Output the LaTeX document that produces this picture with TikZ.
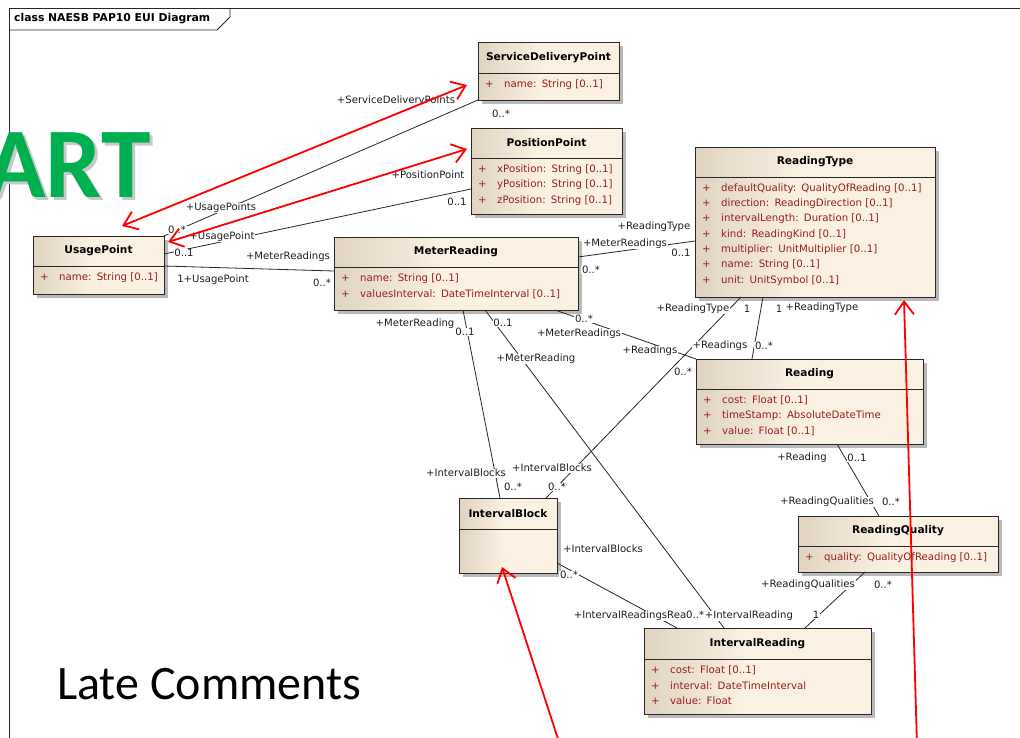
\documentclass[tikz,border=0pt]{standalone}
\usepackage{fontspec}
\newfontfamily\umlfont{DejaVu Sans}
\newfontfamily\officefont{Carlito}
\usetikzlibrary{calc,arrows.meta}

\definecolor{umldark}{RGB}{224,211,192}
\definecolor{umllight}{RGB}{251,241,226}
\definecolor{umlborder}{RGB}{40,40,40}
\definecolor{umlshadow}{RGB}{185,185,185}
\definecolor{attrred}{RGB}{150,30,30}
\definecolor{labelgray}{RGB}{30,30,30}
\definecolor{artgreen}{RGB}{0,176,80}
\definecolor{artshadow}{RGB}{200,200,200}
\definecolor{noteRed}{RGB}{255,0,0}

% gap after the colon of an attribute
\newcommand\colgap{\hspace{5.2pt}}

\tikzset{
  classbox/.style={draw=umlborder, line width=0.9pt, anchor=north west, inner sep=0pt, outer sep=0pt},
  classtitle/.style={font=\umlfont\bfseries\fontsize{10.6}{12}\selectfont, text=black, inner sep=0pt},
  classattr/.style={anchor=west, inner sep=0pt, font=\umlfont\fontsize{10.2}{12}\selectfont, text=attrred},
  assoc/.style={draw=black!85, line width=0.8pt},
  lbl/.style={font=\umlfont\fontsize{10.1}{11}\selectfont, text=labelgray, fill=white, inner sep=0.6pt},
  redlink/.style={draw=noteRed, line width=1.8pt},
  barb/.tip={Straight Barb[length=13pt,width=19pt]}
}

% class box: name, x, y, width, height, header height, title
\newcommand\umlclass[7]{%
  \fill[umlshadow] (#2+4,#3+4) rectangle ++(#4,#5);
  \fill[umllight] (#2,#3) rectangle ++(#4,#5);
  \shade[left color=umldark,right color=umllight] (#2,#3) rectangle ++(0.45*#4,#5);
  \node[classbox, minimum width=#4pt, minimum height=#5pt] (#1) at (#2,#3) {};
  \draw[umlborder, line width=0.9pt] ($(#1.north west)+(0,#6)$) -- ($(#1.north east)+(0,#6)$);
  \node[classtitle] (#1-title) at ($(#1.north)+(0,#6/2)$) {#7};
}
% attribute compartment: name, header height, line pitch, list
\newcommand\umlattrs[4]{%
  \foreach \a [count=\i from 0] in {#4} {
    \node[classattr] (#1-attr\i) at ($(#1.north west)+(7,#2+11.5+#3*\i)$) {\makebox[19pt][l]{+}\a};
  }
}

\begin{document}
\begin{tikzpicture}[x=1pt,y=-1pt]
\useasboundingbox (0,0) rectangle (1020,737);
\fill[white] (0,0) rectangle (1020,737);

% diagram frame and its name tab
\draw[black!85, line width=0.8pt] (9,745) -- (9,8) -- (1030,8);
\draw[black!85, line width=0.8pt] (9,30) -- (217,30) -- (230,17) -- (230,8);
\node[anchor=west, inner sep=0pt, font=\umlfont\bfseries\fontsize{10.8}{12}\selectfont] (frametitle) at (14,19) {class NAESB PAP10 EUI Diagram};

% slide overlay texts
\node[anchor=base east, inner sep=0pt, text=artshadow, font=\officefont\bfseries\fontsize{100}{100}\selectfont] (artshade) at (154,200) {ART};
\node[anchor=base east, inner sep=0pt, text=artgreen, font=\officefont\bfseries\fontsize{100}{100}\selectfont] (art) at (151,197) {ART};
\node[anchor=base west, inner sep=0pt, font=\officefont\fontsize{48}{52}\selectfont] (late) at (57,699) {Late Comments};

% classes
\umlclass{sdp}{478}{42}{141}{58}{31}{ServiceDeliveryPoint}
\umlattrs{sdp}{31}{15.33}{{name:\colgap String [0..1]}}

\umlclass{pp}{471}{128}{151}{86}{30}{PositionPoint}
\umlattrs{pp}{30}{15.5}{{xPosition:\colgap String [0..1]},{yPosition:\colgap String [0..1]},{zPosition:\colgap String [0..1]}}

\umlclass{rt}{695}{147}{240}{150}{30}{ReadingType}
\umlattrs{rt}{30}{15.33}{{defaultQuality:\colgap QualityOfReading [0..1]},{direction:\colgap ReadingDirection [0..1]},{intervalLength:\colgap Duration [0..1]},{kind:\colgap ReadingKind [0..1]},{multiplier:\colgap UnitMultiplier [0..1]},{name:\colgap String [0..1]},{unit:\colgap UnitSymbol [0..1]}}

\umlclass{up}{33}{236}{131}{58}{30}{UsagePoint}
\umlattrs{up}{30}{15.33}{{name:\colgap String [0..1]}}

\umlclass{mr}{334}{237}{244}{73}{30}{MeterReading}
\umlattrs{mr}{30}{15.5}{{name:\colgap String [0..1]},{valuesInterval:\colgap DateTimeInterval [0..1]}}

\umlclass{rd}{696}{359}{227}{85}{30}{Reading}
\umlattrs{rd}{30}{15.33}{{cost:\colgap Float [0..1]},{timeStamp:\colgap AbsoluteDateTime},{value:\colgap Float [0..1]}}

\umlclass{ib}{459}{498}{98}{75}{31}{IntervalBlock}

\umlclass{rq}{798}{516}{200}{56}{30}{ReadingQuality}
\umlattrs{rq}{30}{15.33}{{quality:\colgap QualityOfReading [0..1]}}

\umlclass{ir}{644}{628}{227}{86}{31}{IntervalReading}
\umlattrs{ir}{31}{15.33}{{cost:\colgap Float [0..1]},{interval:\colgap DateTimeInterval},{value:\colgap Float}}

% associations
\draw[assoc] (up.north east) -- (sdp.south west);
\draw[assoc] ($(up.north east)+(0,18)$) -- ($(pp.north west)+(0,61)$);
\draw[assoc] ($(up.north east)+(0,30)$) -- ($(mr.north west)+(0,34)$);
\draw[assoc] ($(mr.north east)+(0,20)$) -- ($(rt.north west)+(0,94)$);
\draw[assoc] ($(mr.south west)+(129,0)$) -- ($(ib.north west)+(41,0)$);
\draw[assoc] ($(mr.south west)+(151,0)$) -- ($(ir.north west)+(80,0)$);
\draw[assoc] ($(rt.south west)+(46,0)$) -- ($(ib.north west)+(87,0)$);
\draw[assoc] ($(mr.south west)+(221,0)$) -- (rd.north west);
\draw[assoc] ($(rt.south west)+(68,0)$) -- ($(rd.north west)+(56,0)$);
\draw[assoc] ($(rd.south west)+(141,0)$) -- ($(rq.north west)+(81,0)$);
\draw[assoc] ($(ib.north east)+(0,65)$) -- ($(ir.north west)+(33,0)$);
\draw[assoc] ($(rq.south west)+(67,0)$) -- ($(ir.north west)+(161,0)$);

% role names and multiplicities
\node[lbl] (l1)  at (221,208) {+UsagePoints};
\node[lbl] (l2)  at (177,230) {0..*};
\node[lbl] (l3)  at (396,101) {+ServiceDeliveryPoints};
\node[lbl] (l4)  at (501,114) {0..*};
\node[lbl] (l5)  at (222,237) {+UsagePoint};
\node[lbl] (l6)  at (184,253) {0..1};
\node[lbl] (l7)  at (428,175) {+PositionPoint};
\node[lbl] (l8)  at (457,202) {0..1};
\node[lbl] (l9)  at (288,257) {+MeterReadings};
\node[lbl] (l10) at (213,280) {1+UsagePoint};
\node[lbl] (l11) at (322,283) {0..*};
\node[lbl] (l12) at (625,244) {+MeterReadings};
\node[lbl] (l13) at (591,270) {0..*};
\node[lbl] (l14) at (654,227) {+ReadingType};
\node[lbl] (l15) at (681,253) {0..1};
\node[lbl] (l16) at (415,324) {+MeterReading};
\node[lbl] (l17) at (465,332) {0..1};
\node[lbl] (l18) at (466,473) {+IntervalBlocks};
\node[lbl] (l19) at (513,487) {0..*};
\node[lbl] (l20) at (503,323) {0..1};
\node[lbl] (l21) at (536,359) {+MeterReading};
\node[lbl] (l22) at (693,309) {+ReadingType};
\node[lbl] (l23) at (747,309) {1};
\node[lbl] (l24) at (552,468) {+IntervalBlocks};
\node[lbl] (l25) at (557,487) {0..*};
\node[lbl] (l26) at (584,319) {0..*};
\node[lbl] (l27) at (579,334) {+MeterReadings};
\node[lbl] (l28) at (650,351) {+Readings};
\node[lbl] (l29) at (683,372) {0..*};
\node[lbl] (l30) at (779,309) {1};
\node[lbl] (l31) at (822,308) {+ReadingType};
\node[lbl] (l32) at (720,346) {+Readings};
\node[lbl] (l33) at (764,346) {0..*};
\node[lbl] (l34) at (802,458) {+Reading};
\node[lbl] (l35) at (857,458) {0..1};
\node[lbl] (l36) at (827,502) {+ReadingQualities};
\node[lbl] (l37) at (891,502) {0..*};
\node[lbl] (l38) at (603,549) {+IntervalBlocks};
\node[lbl] (l39) at (569,575) {0..*};
\node[lbl, anchor=west] (l40) at (573,616) {+IntervalReadingsRea0..*};
\node[lbl, anchor=west] (l41) at (704,616) {+IntervalReading};
\node[lbl] (l42) at (808,585) {+ReadingQualities};
\node[lbl] (l43) at (883,585) {0..*};
\node[lbl] (l44) at (816,615) {1};

% red review marks
\coordinate (footib) at (560,745);
\coordinate (footrt) at (917,745);
\draw[redlink, barb-barb] ($(up.north west)+(89,-10)$) -- ($(sdp.north west)+(-11,43)$);
\draw[redlink, barb-barb] ($(up.north east)+(4,6)$) -- ($(pp.north west)+(-4,21)$);
\draw[redlink, -barb] (footib) -- ($(ib.north west)+(43,69)$);
\draw[redlink, -barb] (footrt) -- ($(rt.south west)+(209,3)$);
\end{tikzpicture}
\end{document}
